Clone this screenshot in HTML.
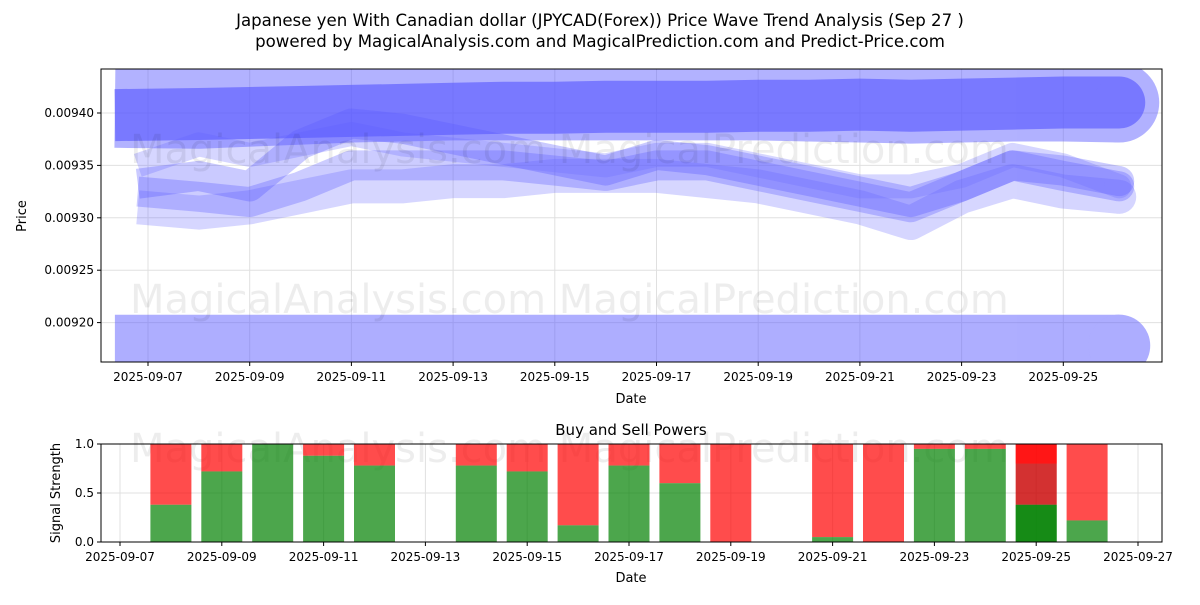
<!DOCTYPE html>
<html><head><meta charset="utf-8"><style>
body{margin:0;background:#fff;font-family:"Liberation Sans","DejaVu Sans",sans-serif}
svg text{font-family:"DejaVu Sans","Liberation Sans",sans-serif;fill:#000}
</style></head><body>
<svg id="c" width="1200" height="600" xmlns="http://www.w3.org/2000/svg">
<text x="600" y="26" font-size="16.6" text-anchor="middle">Japanese yen With Canadian dollar (JPYCAD(Forex)) Price Wave Trend Analysis (Sep 27 )</text>
<text x="600" y="47" font-size="16.6" text-anchor="middle">powered by MagicalAnalysis.com and MagicalPrediction.com and Predict-Price.com</text>
<g id="top"></g><g id="bot"></g>
</svg>
<script>
const waveDays=[6.8,8,9,10,11,12,13,14,15,16,17,18,19,20,21,22,23,24,25,26.1];
const bandDays=[6.35,8,9,10,11,12,13,14,15,16,17,18,19,20,21,22,23,24,25,26.1];
const waveA=[0.0093325,0.00934,0.00933,0.00937,0.00939,0.009385,0.009375,0.009365,0.009355,0.009345,0.00936,0.009355,0.009345,0.009335,0.009325,0.009315,0.00933,0.00935,0.00934,0.00933];
const waveB=[0.009325,0.00932,0.009315,0.00933,0.00935,0.00935,0.00935,0.00935,0.009345,0.00934,0.00935,0.00935,0.00934,0.00933,0.00932,0.00931,0.00933,0.00935,0.009345,0.009335];
const waveC=[0.00935,0.00937,0.00936,0.00937,0.00938,0.00937,0.009365,0.00936,0.009355,0.00935,0.00936,0.00936,0.00935,0.00934,0.00933,0.00933,0.00934,0.00936,0.00935,0.00933];
const waveD=[0.00931,0.009305,0.00931,0.00932,0.00933,0.00933,0.009335,0.009335,0.00934,0.00934,0.00934,0.009335,0.00933,0.00932,0.00931,0.009295,0.00932,0.009335,0.009325,0.00932];
const topBand=[0.009398,0.009399,0.0094,0.009401,0.009402,0.009403,0.009404,0.009405,0.009405,0.009406,0.009406,0.009406,0.009407,0.009407,0.009408,0.009407,0.009408,0.009409,0.00941,0.00941];
const topLight=[0.009405,0.009404,0.009406,0.009408,0.00941,0.009411,0.009412,0.009412,0.009412,0.009412,0.009412,0.009412,0.009412,0.009411,0.00941,0.009409,0.00941,0.009411,0.009411,0.00941];
const lowBand=[0.009178,0.009178,0.009178,0.009178,0.009178,0.009178,0.009178,0.009178,0.009178,0.009178,0.009178,0.009178,0.009178,0.009178,0.009178,0.009178,0.009178,0.009178,0.009178,0.009178];
const priceTicks=[0.0092,0.00925,0.0093,0.00935,0.0094];
const priceTickLabels=["0.00920","0.00925","0.00930","0.00935","0.00940"];
const topDateTicks=[7,9,11,13,15,17,19,21,23,25];
const botDateTicks=[7,9,11,13,15,17,19,21,23,25,27];
const barDays=[8,9,10,11,12,14,15,16,17,18,19,21,22,23,24,25,26];
const buyPower=[0.38,0.72,1.0,0.88,0.78,0.78,0.72,0.17,0.78,0.6,0.0,0.05,0.0,0.95,0.95,0.38,0.22];
const sigTicks=[0,0.5,1];
const sigLabels=["0.0","0.5","1.0"];
const NS="http://www.w3.org/2000/svg";
function mk(p,t,a,txt){const e=document.createElementNS(NS,t);for(const k in a)e.setAttribute(k,a[k]);if(txt!==undefined)e.textContent=txt;p.appendChild(e);return e;}
const T=document.getElementById('top'),B=document.getElementById('bot');
const L=101,R=1162;
const xt=d=>148+(d-7)*50.85;
const yt=v=>113+(0.0094-v)/0.00005*52.4;
const xb=d=>120+(d-7)*50.9;
const yb=v=>542-v*98;
for(let i=0;i<priceTicks.length;i++){const y=yt(priceTicks[i]);
let g=mk(T,'line',{x1:L,x2:R,y1:y,y2:y,stroke:'#e0e0e0','stroke-width':1});
mk(T,'line',{x1:L-4,x2:L,y1:y,y2:y,stroke:'#000'});
let t=mk(T,'text',{x:L-7,y:y+4,'font-size':12,'text-anchor':'end'},priceTickLabels[i]);}
for(const d of topDateTicks){const x=xt(d);
mk(T,'line',{x1:x,x2:x,y1:69,y2:362,stroke:'#e0e0e0'});mk(T,'line',{x1:x,x2:x,y1:362,y2:366,stroke:'#000'});
let t=mk(T,'text',{x:x,y:381,'font-size':12,'text-anchor':'middle'},'2025-09-'+String(d).padStart(2,'0'));}
mk(T,'clipPath',{id:'cp'});mk(document.getElementById('cp'),'rect',{x:L,y:69,width:R-L,height:293});
function band(days,vals,w,col,op,name){const pts=vals.map((v,i)=>xt(days[i]).toFixed(1)+','+yt(v).toFixed(1)).join(' ');
const g=mk(T,'g',{'clip-path':'url(#cp)',opacity:op});
const e=mk(g,'polyline',{points:pts,fill:'none',stroke:col,'stroke-width':w,'stroke-linejoin':'round','stroke-linecap':'butt'});
const n=vals.length-1;mk(g,'circle',{cx:xt(days[n]),cy:yt(vals[n]),r:w/2,fill:col});
}
band(bandDays,topLight,80,'#5555ff',0.45,'upper-light-band');
band(bandDays,lowBand,62,'#5555ff',0.48,'lower-band');
band(waveDays,waveD,34,'#6a6aff',0.28,'wave-d');
band(waveDays,waveB,30,'#5555ff',0.3,'wave-b');
band(waveDays,waveA,30,'#4f4fff',0.3,'wave-a');
band(waveDays,waveC,24,'#6a6aff',0.28,'wave-c');
band(bandDays,topBand,52,'#5a5aff',0.65,'upper-band');
mk(T,'text',{x:130,y:313,'font-size':40,fill:'#000','fill-opacity':0.07},'MagicalAnalysis.com    MagicalPrediction.com');
mk(T,'text',{x:130,y:163,'font-size':40,fill:'#000','fill-opacity':0.07},'MagicalAnalysis.com    MagicalPrediction.com');
mk(T,'rect',{x:L,y:69,width:R-L,height:293,fill:'none',stroke:'#000','stroke-width':1});
let yl=mk(T,'text',{x:26,y:216,'font-size':13,'text-anchor':'middle',transform:'rotate(-90 26 216)'},'Price');
mk(T,'text',{x:631,y:403,'font-size':13,'text-anchor':'middle'},'Date');
mk(B,'text',{x:631,y:435,'font-size':15,'text-anchor':'middle'},'Buy and Sell Powers');
mk(B,'text',{x:130,y:462,'font-size':40,fill:'#000','fill-opacity':0.07},'MagicalAnalysis.com    MagicalPrediction.com');
for(let i=0;i<sigTicks.length;i++){const y=yb(sigTicks[i]);
mk(B,'line',{x1:L,x2:R,y1:y,y2:y,stroke:'#e0e0e0'});mk(B,'line',{x1:L-4,x2:L,y1:y,y2:y,stroke:'#000'});
let t=mk(B,'text',{x:L-7,y:y+4,'font-size':12,'text-anchor':'end'},sigLabels[i]);}
for(const d of botDateTicks){const x=xb(d);
mk(B,'line',{x1:x,x2:x,y1:444,y2:542,stroke:'#e0e0e0'});mk(B,'line',{x1:x,x2:x,y1:542,y2:546,stroke:'#000'});
mk(B,'text',{x:x,y:561,'font-size':12,'text-anchor':'middle'},'2025-09-'+String(d).padStart(2,'0'));}
for(let i=0;i<barDays.length;i++){const x=xb(barDays[i])-20.5,g=buyPower[i];
let r=mk(B,'rect',{x:x,y:yb(1),width:41,height:yb(g)-yb(1),fill:'#ff0000','fill-opacity':0.7});
let q=mk(B,'rect',{x:x,y:yb(g),width:41,height:yb(0)-yb(g),fill:'#008000','fill-opacity':0.7});
if(barDays[i]===25){mk(B,'rect',{x:x,y:yb(1),width:41,height:yb(0.8)-yb(1),fill:'#ff0000','fill-opacity':0.7});mk(B,'rect',{x:x,y:yb(g),width:41,height:yb(0)-yb(g),fill:'#008000','fill-opacity':0.7});mk(B,'rect',{x:x,y:yb(0.8),width:41,height:yb(g)-yb(0.8),fill:'#800000','fill-opacity':0.35});}}
mk(B,'rect',{x:L,y:444,width:R-L,height:98,fill:'none',stroke:'#000'});
mk(B,'text',{x:60,y:493,'font-size':13,'text-anchor':'middle',transform:'rotate(-90 60 493)'},'Signal Strength');
mk(B,'text',{x:631,y:582,'font-size':13,'text-anchor':'middle'},'Date');
</script>
</body></html>
